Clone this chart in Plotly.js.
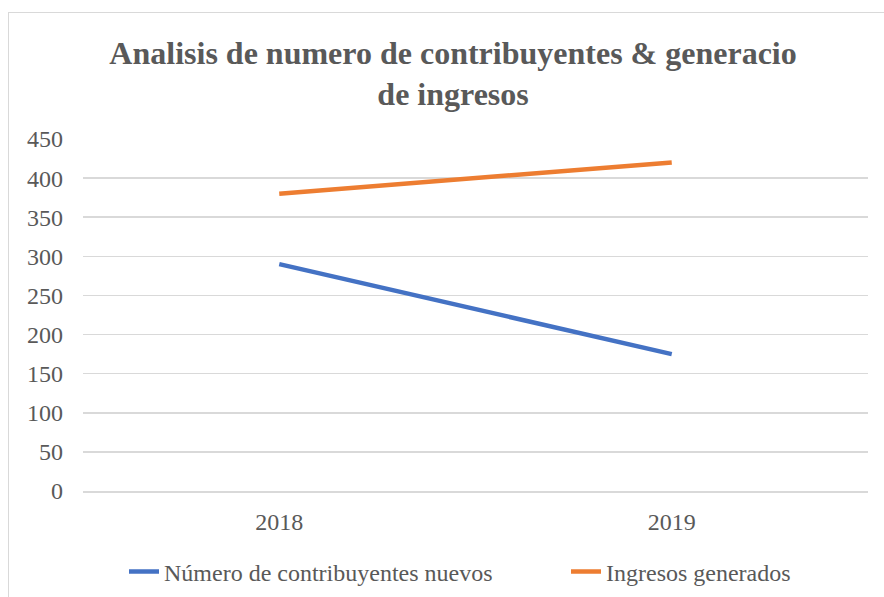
<!DOCTYPE html>
<html>
<head>
<meta charset="utf-8">
<script src="https://cdn.plot.ly/plotly-3.0.1.min.js"></script>
<style>
html,body{margin:0;padding:0;background:#fff;}
#wrap{position:relative;width:884px;height:597px;}
#chart{width:884px;height:597px;}
#frame{position:absolute;left:8px;top:12px;width:890px;height:600px;border-left:1.5px solid #d9d9d9;border-top:1.5px solid #d9d9d9;pointer-events:none;}
</style>
</head>
<body>
<div id="wrap"><div id="chart"></div><div id="frame"></div></div>
<script>
const years = ['2018', '2019'];
const nuevos = [290, 175];
const ingresos = [380, 420];
const yTicks = [0, 50, 100, 150, 200, 250, 300, 350, 400, 450];

const font = 'Liberation Serif';
const traces = [
  {x: years, y: nuevos, type: 'scatter', mode: 'lines', name: 'Número de contribuyentes nuevos',
   line: {color: '#4472C4', width: 4.5}, legend: 'legend'},
  {x: years, y: ingresos, type: 'scatter', mode: 'lines', name: 'Ingresos generados',
   line: {color: '#ED7D31', width: 4.5}, legend: 'legend2'}
];
const legendBase = {orientation: 'h', xref: 'container', yref: 'container', xanchor: 'left', yanchor: 'middle',
  y: 0.042, font: {family: font, size: 24, color: '#595959'}, bgcolor: 'rgba(0,0,0,0)'};
const layout = {
  width: 884, height: 597,
  margin: {l: 83, r: 16, t: 139, b: 106},
  paper_bgcolor: '#fff', plot_bgcolor: '#fff',
  font: {family: font, color: '#595959', size: 24},
  title: {text: '<b>Analisis de numero de contribuyentes & generacio<br>de ingresos</b>',
    font: {family: font, size: 32, color: '#595959'},
    x: 0.5125, xref: 'container', xanchor: 'center', y: 0.893, yref: 'container', yanchor: 'middle'},
  xaxis: {type: 'category', range: [-0.5, 1.5], showgrid: false, zeroline: false,
    showline: true, linecolor: '#d9d9d9', linewidth: 1.5, ticks: '', ticklabelstandoff: 9,
    tickfont: {family: font, size: 24, color: '#595959'}},
  yaxis: {range: [0, 450], tickvals: yTicks, showgrid: true, gridcolor: '#d9d9d9', gridwidth: 1.5,
    zeroline: false, showline: false, ticks: '', ticklabelstandoff: 19,
    tickfont: {family: font, size: 24, color: '#595959'}},
  showlegend: true,
  legend: Object.assign({}, legendBase, {x: 124 / 884}),
  legend2: Object.assign({}, legendBase, {x: 566 / 884})
};
Plotly.newPlot('chart', traces, layout, {displayModeBar: false, staticPlot: true});
</script>
</body>
</html>
